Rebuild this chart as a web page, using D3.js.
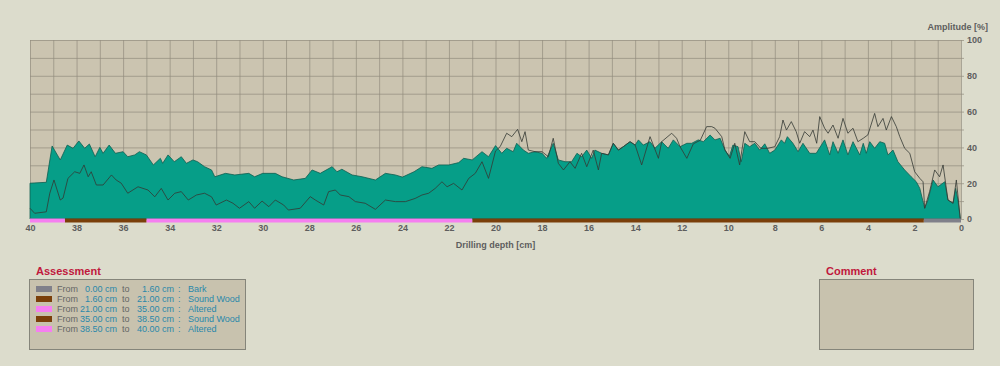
<!DOCTYPE html>
<html>
<head>
<meta charset="utf-8">
<script src="https://cdn.jsdelivr.net/npm/d3@7"></script>
<style>
  body { margin: 0; background: #dcdccc; }
  text { font-family: "Liberation Sans", Arial, sans-serif; }
</style>
</head>
<body>
<div id="chart"></div>
<script>
// drilling resistance (filled) and feed (line), depth in cm, amplitude in %
const drillDepth = [40, 39.3, 39.05, 38.7, 38.4, 38.15, 37.9, 37.65, 37.45, 37.2, 37, 36.86, 36.6, 36.33, 36, 35.8, 35.5, 35.3, 35, 34.7, 34.4, 34.3, 34.07, 33.8, 33.5, 33.28, 33, 32.8, 32.5, 32.2, 32.06, 31.6, 31.2, 30.6, 30.35, 30, 29.46, 29.17, 28.67, 28.17, 27.88, 27.53, 27.02, 26.81, 26.6, 26.16, 25.73, 25.16, 24.73, 24.3, 24, 23.5, 23.16, 22.73, 22.44, 22, 21.58, 21.37, 21, 20.58, 20.3, 20, 19.73, 19.52, 19.24, 19.09, 18.8, 18.59, 18.3, 18, 17.8, 17.52, 17.3, 17.01, 16.73, 16.5, 16.3, 16.08, 15.87, 15.73, 15.44, 15.15, 14.94, 14.72, 14.51, 14.22, 14, 13.86, 13.65, 13.36, 13.15, 12.86, 12.58, 12.36, 12.07, 11.78, 11.57, 11.29, 11.07, 10.78, 10.57, 10.35, 10.14, 9.95, 9.8, 9.58, 9.44, 9.29, 9.08, 8.86, 8.65, 8.43, 8.22, 8, 7.72, 7.58, 7.46, 7.22, 7, 6.79, 6.5, 6.22, 5.86, 5.64, 5.5, 5.28, 5.07, 4.86, 4.64, 4.35, 4.2, 4.07, 3.92, 3.71, 3.49, 3.28, 3.14, 2.92, 2.71, 2.42, 2.14, 1.92, 1.77, 1.56, 1.42, 1.2, 0.99, 0.7, 0.56, 0.34, 0.23, 0.13, 0.03];
const drillAmp = [20, 20.5, 40.8, 33, 41.3, 39.5, 43.6, 39.5, 41.9, 34.8, 40, 36.7, 41.3, 36.7, 37.6, 34.8, 35.8, 37.6, 35.8, 30.2, 33.9, 31.1, 35.8, 32, 34.8, 31.1, 33, 32, 29.2, 27.4, 23.6, 25.5, 24.6, 25.5, 23.6, 25.5, 25.5, 23.6, 21.8, 22.7, 27.4, 25.5, 29.2, 26.4, 27.8, 24.6, 23.6, 21.8, 25.5, 24.6, 23.4, 26.4, 29.2, 28.3, 30.2, 30.2, 31.5, 33.9, 33, 37.6, 34.8, 41, 36.7, 39.5, 37.6, 42.3, 38.5, 36.7, 37.6, 36.7, 33.9, 42.3, 33, 32, 32, 36.7, 34.8, 38.5, 33.9, 38.5, 36.7, 35.8, 42.3, 38.5, 40.4, 43.2, 41.3, 44.2, 41.3, 43.2, 39.5, 43.2, 39.5, 44.2, 40.4, 42.3, 42.3, 44.2, 43.2, 46.9, 44.2, 45.1, 38.5, 35, 41.3, 40.4, 32, 42.3, 40.4, 42.3, 38.5, 42, 36.7, 38.5, 44.2, 42.3, 46, 42.3, 37.6, 42.3, 36.7, 36.7, 44.2, 35.8, 43.2, 36.7, 44.2, 35.8, 43.2, 35.8, 42.3, 36.7, 43.2, 39.5, 43.2, 42.3, 35.8, 38.5, 32, 27.4, 23.6, 20.8, 17.1, 6, 10.6, 21.8, 18, 20.8, 10.6, 8.8, 17.1, 10.6, 0];

const feedDepth = [40, 39.8, 39.3, 39.15, 38.97, 38.7, 38.58, 38.37, 38.08, 37.86, 37.68, 37.5, 37.37, 37.15, 36.86, 36.5, 36.3, 36.08, 35.8, 35.36, 34.93, 34.64, 34.36, 34.07, 33.78, 33.5, 33.2, 32.85, 32.5, 32.2, 32, 31.56, 31.28, 31, 30.6, 30.35, 30.03, 29.74, 29.46, 29.1, 28.9, 28.39, 27.96, 27.74, 27.38, 27.17, 26.88, 26.67, 26.3, 26.02, 25.6, 25.16, 24.73, 24.3, 23.87, 23.45, 23.16, 22.87, 22.59, 22.3, 22.08, 21.8, 21.44, 21.15, 20.87, 20.58, 20.3, 20, 19.8, 19.52, 19.3, 19.05, 18.87, 18.73, 18.59, 18.3, 18, 17.73, 17.52, 17.3, 17.08, 16.8, 16.58, 16.3, 16.08, 15.8, 15.58, 15.44, 15.15, 14.94, 14.72, 14.51, 14.22, 14, 13.72, 13.36, 13, 12.86, 12.43, 12.22, 12.07, 11.78, 11.5, 11.2, 10.93, 10.71, 10.57, 10.28, 10.14, 9.92, 9.72, 9.51, 9.29, 9.08, 8.86, 8.6, 8.3, 8, 7.79, 7.65, 7.5, 7.29, 7.08, 6.93, 6.72, 6.5, 6.36, 6.2, 6.07, 5.86, 5.71, 5.5, 5.28, 5.07, 4.86, 4.64, 4.43, 4.2, 4, 3.71, 3.57, 3.35, 3.21, 2.99, 2.78, 2.63, 2.42, 2.2, 1.99, 1.77, 1.63, 1.56, 1.35, 1.13, 0.92, 0.77, 0.56, 0.34, 0.2, 0.03];
const feedAmp = [6, 3.2, 4, 14.4, 21.8, 10.6, 11.7, 22.7, 26.4, 25.5, 30.2, 23.6, 26.4, 19, 19, 24.6, 21.8, 20, 14.4, 18, 16.2, 12.4, 17.1, 10.6, 14.4, 15.3, 10.6, 13.4, 14.4, 12.4, 7.8, 10.6, 8.8, 6, 9.7, 6, 10, 6.9, 10.6, 7.8, 5, 6, 12.5, 10.6, 7.8, 15.3, 16.2, 13.4, 12.5, 9.7, 8.8, 5.4, 10.6, 9.7, 9.7, 11.5, 13.4, 14.4, 17.1, 20.8, 18, 19.9, 16.2, 22.7, 25.5, 32, 22.7, 38, 40.4, 47.9, 46, 50.1, 43.2, 48.8, 38.5, 37.6, 37.6, 34.8, 45.1, 31.1, 27.4, 32, 28.3, 36.7, 29.2, 38.5, 27.4, 36.7, 35.8, 42.3, 38.5, 40.4, 43.2, 41.3, 30.2, 46, 33.9, 43.2, 47.9, 45.1, 40.4, 33.9, 42, 44, 51.6, 51.6, 50.7, 46, 38.5, 33.9, 42.3, 30.2, 48.8, 43.2, 43.2, 39.5, 39.5, 40.4, 46, 55.3, 49.7, 54.4, 48.8, 42.3, 48.8, 46, 49.7, 42.3, 57.2, 50.7, 47.9, 52.5, 45.1, 56.2, 47.9, 50.7, 43.2, 45.1, 47, 59, 51.6, 56.2, 49.7, 57.2, 51.6, 46, 39.5, 36.7, 26.4, 22.7, 20.8, 6, 15.3, 27.4, 23.6, 30.2, 10.6, 8.8, 21.8, 0];

// assessment zones
const zoneFrom = [0.00, 1.60, 21.00, 35.00, 38.50];
const zoneTo = [1.60, 21.00, 35.00, 38.50, 40.00];
const zoneName = ["Bark", "Sound Wood", "Altered", "Sound Wood", "Altered"];
const zoneColor = ["#80808a", "#7a3f0a", "#f57ff0", "#7a3f0a", "#f57ff0"];

const xTicks = d3.range(0, 41, 2);
const yTicks = [0, 20, 40, 60, 80, 100];

const width = 1000, height = 366;
const margin = { top: 40, right: 39, bottom: 147, left: 30 };

const svg = d3.select("#chart").append("svg")
  .attr("width", width).attr("height", height);

const x = d3.scaleLinear().domain([40, 0]).range([margin.left, width - margin.right]);
const y = d3.scaleLinear().domain([0, 100]).range([height - margin.bottom, margin.top]);

// plot background
svg.append("rect")
  .attr("x", x(40)).attr("y", y(100))
  .attr("width", x(0) - x(40)).attr("height", y(0) - y(100))
  .attr("fill", "#cbc4b0");

// grid
svg.append("g")
  .attr("transform", `translate(0,${y(0)})`)
  .call(d3.axisBottom(x).tickValues(d3.range(0, 41, 1)).tickSize(-(y(0) - y(100))).tickFormat(""))
  .call(g => g.select(".domain").remove())
  .call(g => g.selectAll("line").attr("stroke", "#928d7e").attr("stroke-width", 0.7));

svg.append("g")
  .attr("transform", `translate(${x(40)},0)`)
  .call(d3.axisRight(y).tickValues(d3.range(0, 101, 10)).tickSize(x(0) - x(40) + 3).tickFormat(""))
  .call(g => g.select(".domain").remove())
  .call(g => g.selectAll("line").attr("stroke", "#928d7e").attr("stroke-width", 0.7));

const pts = (ds, vs) => ds.map((d, i) => [d, vs[i]]);

svg.append("path")
  .datum(pts(drillDepth, drillAmp))
  .attr("fill", "#069e88")
  .attr("stroke", "#0f5e50")
  .attr("stroke-width", 0.8)
  .attr("d", d3.area().x(d => x(d[0])).y0(y(0)).y1(d => y(d[1])));

svg.append("path")
  .datum(pts(feedDepth, feedAmp))
  .attr("fill", "none")
  .attr("stroke", "#333833")
  .attr("stroke-width", 0.8)
  .attr("d", d3.line().x(d => x(d[0])).y(d => y(d[1])));

// zone strip
svg.append("g").selectAll("rect")
  .data(zoneFrom)
  .join("rect")
  .attr("x", (d, i) => x(zoneTo[i]))
  .attr("y", y(0) - 0.5)
  .attr("width", (d, i) => x(d) - x(zoneTo[i]))
  .attr("height", 4)
  .attr("fill", (d, i) => zoneColor[i]);

// axes labels
const tickStyle = g => g
  .call(g => g.select(".domain").remove())
  .call(g => g.selectAll("line").remove())
  .call(g => g.selectAll("text").attr("fill", "#5e5e5e").attr("font-weight", "bold")
    .attr("font-size", "9px").attr("font-family", "Liberation Sans, Arial, sans-serif"));

svg.append("g")
  .attr("transform", `translate(0,${y(0) + 4})`)
  .call(d3.axisBottom(x).tickValues(xTicks).tickSize(0).tickPadding(2))
  .call(tickStyle);

svg.append("g")
  .attr("transform", `translate(${x(0) + 3},0)`)
  .call(d3.axisRight(y).tickValues(yTicks).tickSize(0).tickPadding(3))
  .call(tickStyle);

svg.append("text")
  .attr("x", (x(40) + x(0)) / 2).attr("y", 248)
  .attr("text-anchor", "middle")
  .attr("font-size", "9px").attr("font-weight", "bold").attr("fill", "#5e5e5e")
  .text("Drilling depth [cm]");

svg.append("text")
  .attr("x", 988).attr("y", 30)
  .attr("text-anchor", "end")
  .attr("font-size", "9px").attr("font-weight", "bold").attr("fill", "#5e5e5e")
  .text("Amplitude [%]");

// assessment box
svg.append("text")
  .attr("x", 36).attr("y", 275)
  .attr("font-size", "11px").attr("font-weight", "bold").attr("fill", "#c0183c")
  .text("Assessment");

svg.append("rect")
  .attr("x", 29.5).attr("y", 279.5).attr("width", 216).attr("height", 70)
  .attr("fill", "#c8c2ae").attr("stroke", "#85857a");

const rows = svg.append("g").selectAll("g")
  .data(zoneFrom)
  .join("g")
  .attr("transform", (d, i) => `translate(0,${289 + i * 10})`)
  .attr("font-size", "9px");

rows.append("rect").attr("x", 36).attr("y", -3).attr("width", 16).attr("height", 6)
  .attr("fill", (d, i) => zoneColor[i]);
rows.append("text").attr("x", 57).attr("y", 3).attr("fill", "#666").text("From");
rows.append("text").attr("x", 117).attr("y", 3).attr("text-anchor", "end").attr("fill", "#2a88aa")
  .text(d => d.toFixed(2) + " cm");
rows.append("text").attr("x", 122).attr("y", 3).attr("fill", "#666").text("to");
rows.append("text").attr("x", 174).attr("y", 3).attr("text-anchor", "end").attr("fill", "#2a88aa")
  .text((d, i) => zoneTo[i].toFixed(2) + " cm");
rows.append("text").attr("x", 178).attr("y", 3).attr("fill", "#2a88aa").text(":");
rows.append("text").attr("x", 188).attr("y", 3).attr("fill", "#2a88aa").text((d, i) => zoneName[i]);

// comment box
svg.append("text")
  .attr("x", 826).attr("y", 275)
  .attr("font-size", "11px").attr("font-weight", "bold").attr("fill", "#c0183c")
  .text("Comment");

svg.append("rect")
  .attr("x", 819.5).attr("y", 279.5).attr("width", 154).attr("height", 70)
  .attr("fill", "#c8c2ae").attr("stroke", "#85857a");
</script>
</body>
</html>
